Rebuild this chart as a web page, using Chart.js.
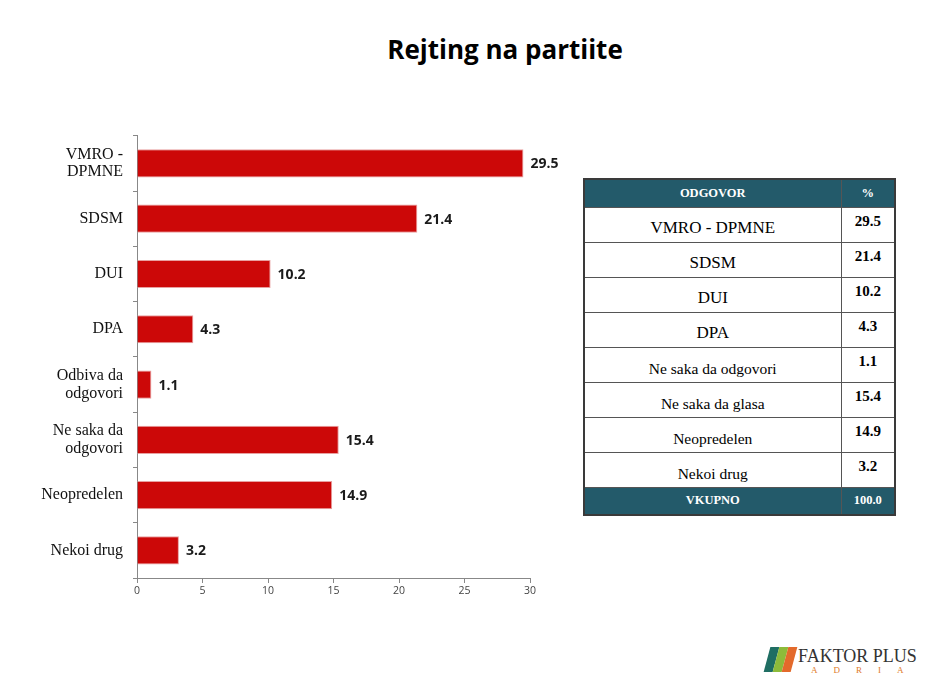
<!DOCTYPE html>
<html>
<head>
<meta charset="utf-8">
<script src="https://cdn.jsdelivr.net/npm/chart.js@4/dist/chart.umd.min.js"></script>
<style>
  body { margin: 0; background: #fff; width: 940px; height: 697px; position: relative; overflow: hidden; }
  #title { position: absolute; left: 305px; width: 400px; top: 31px; text-align: center;
    font-family: "Open Sans", sans-serif; font-weight: bold; font-size: 26px; color: #000; }
  #wrap { position: absolute; left: 20px; top: 117px; width: 540px; height: 493px; }
  #tbl { position: absolute; left: 583px; top: 178px; border-collapse: collapse;
    font-family: "Liberation Serif", serif; border: 2px solid #3a3a3a; }
  #tbl td { border: 1px solid #555; padding: 0; box-sizing: border-box; }
  #tbl .hd td { background: #235a6a; color: #fff; font-weight: bold; font-size: 12.5px; height: 28px; text-align: center; }
  #tbl .rw td { height: 35px; }
  #tbl .lab { width: 257px; text-align: center; font-size: 15.5px; vertical-align: bottom; padding-bottom: 4px; }
  #tbl .lab.big { font-size: 17px; }
  #tbl .val { width: 54px; text-align: center; font-weight: bold; font-size: 15px; vertical-align: top; padding-top: 5px; }
  #logo { position: absolute; left: 763px; top: 645px; width: 165px; height: 30px; white-space: nowrap; }
  #logo .mk { position: absolute; top: 2px; width: 9px; height: 25px; transform: skewX(-15deg); }
  #logo .nm { position: absolute; left: 35px; top: 1px; font-family: "Liberation Serif", serif; font-size: 18px; color: #333; }
  #logo .sb { position: absolute; left: 48px; top: 20px; font-family: "Liberation Serif", serif; font-size: 9px; color: #e07a2a; letter-spacing: 16px; }
</style>
</head>
<body>
<div id="title">Rejting na partiite</div>
<div id="wrap"><canvas id="chart"></canvas></div>
<table id="tbl"></table>
<div id="logo">
  <div class="mk" style="left:4px;background:#1f6e63;"></div>
  <div class="mk" style="left:13px;background:#8dbb3a;"></div>
  <div class="mk" style="left:22px;background:#e36a2b;"></div>
  <div class="nm">FAKTOR PLUS</div>
  <div class="sb">ADRIA</div>
</div>
<script>
function $(id) {
  return document.getElementById(id);
}

const labels = [
  ["VMRO -", "DPMNE"],
  "SDSM",
  "DUI",
  "DPA",
  ["Odbiva da", "odgovori"],
  ["Ne saka da", "odgovori"],
  "Neopredelen",
  "Nekoi drug",
];
const values = [29.5, 21.4, 10.2, 4.3, 1.1, 15.4, 14.9, 3.2];

const tableLabels = [
  "VMRO - DPMNE",
  "SDSM",
  "DUI",
  "DPA",
  "Ne saka da odgovori",
  "Ne saka da glasa",
  "Neopredelen",
  "Nekoi drug",
];
const tableValues = [29.5, 21.4, 10.2, 4.3, 1.1, 15.4, 14.9, 3.2];
const totalValue = 100.0;

const valueLabels = {
  id: "valueLabels",
  afterDatasetsDraw: (chart) => {
    const { ctx } = chart;
    const meta = chart.getDatasetMeta(0);
    ctx.save();
    ctx.font = "bold 14px 'Open Sans', sans-serif";
    ctx.fillStyle = "#1a1a1a";
    ctx.textBaseline = "middle";
    meta.data.forEach((bar, i) => {
      ctx.fillText(chart.data.datasets[0].data[i].toFixed(1), bar.x + 7, bar.y + 1);
    });
    ctx.restore();
  },
};

new Chart($("chart"), {
  type: "bar",
  data: {
    labels: labels,
    datasets: [
      {
        data: values,
        backgroundColor: "#cc0808",
        borderColor: "#e8a0a0",
        borderWidth: 1,
        barPercentage: 0.51,
        categoryPercentage: 1,
      },
    ],
  },
  options: {
    indexAxis: "y",
    responsive: true,
    maintainAspectRatio: false,
    animation: false,
    layout: { padding: { top: 4, right: 30, bottom: 0, left: 0 } },
    plugins: { legend: { display: false }, tooltip: { enabled: false } },
    scales: {
      x: {
        min: 0,
        max: 30,
        ticks: { stepSize: 5, color: "#444", font: { family: "'Open Sans', sans-serif", size: 10.5 }, padding: 2 },
        grid: { drawOnChartArea: false, tickLength: 5, color: "#888" },
        border: { color: "#888" },
        afterFit: (s) => { s.height = 32; },
      },
      y: {
        ticks: { color: "#111", font: { family: "'Liberation Serif', serif", size: 16, lineHeight: 1.1 }, padding: 10, autoSkip: false },
        grid: { drawOnChartArea: false, tickLength: 4, color: "#888", offset: true },
        border: { color: "#888" },
        afterFit: (s) => { s.width = 117; },
      },
    },
  },
  plugins: [valueLabels],
});

$("tbl").innerHTML =
  `<tr class="hd"><td>ODGOVOR</td><td>%</td></tr>` +
  tableLabels
    .map((l, i) => `<tr class="rw"><td class="lab${i < 4 ? " big" : ""}">${l}</td><td class="val">${tableValues[i].toFixed(1)}</td></tr>`)
    .join("") +
  `<tr class="hd"><td>VKUPNO</td><td>${totalValue.toFixed(1)}</td></tr>`;
</script>
</body>
</html>
